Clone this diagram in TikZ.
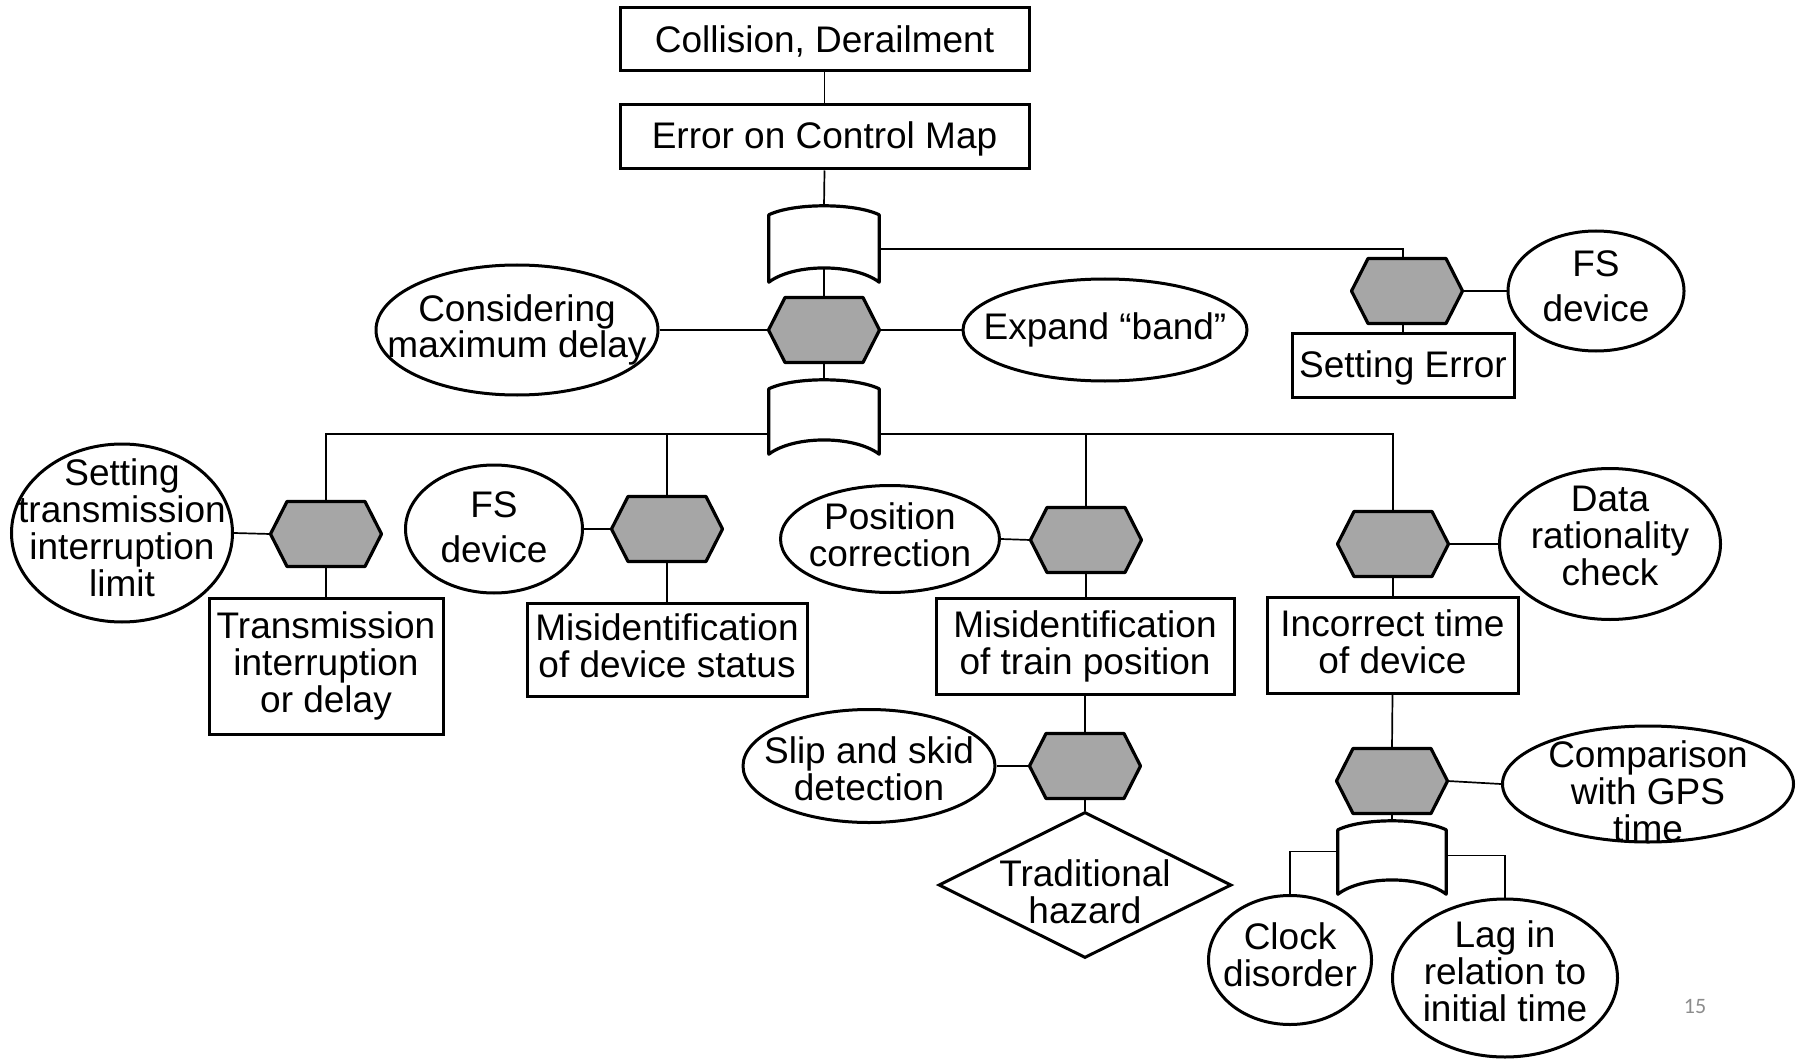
\documentclass[tikz,border=0pt]{standalone}
\usepackage{fontspec}
\setmainfont{Liberation Sans}
\newfontfamily\pgnumfont{Carlito}
\usetikzlibrary{shapes.geometric,calc}
\newcommand\diafont{\fontsize{37}{37}\selectfont}
\definecolor{hexgray}{HTML}{A6A6A6}
\definecolor{pggray}{HTML}{8C8C8C}
\newcommand\hexgate[1]{\draw[hexline] ([xshift=-55.5pt]#1.center) -- ([xshift=-39pt,yshift=32.5pt]#1.center) -- ([xshift=39pt,yshift=32.5pt]#1.center) -- ([xshift=55.5pt]#1.center) -- ([xshift=39pt,yshift=-32.5pt]#1.center) -- ([xshift=-39pt,yshift=-32.5pt]#1.center) -- cycle;}
\newcommand\orgate[1]{\draw[gateline] (#1.south west) -- ([yshift=-9pt]#1.north west) .. controls +(25pt,12pt) and +(-25pt,12pt) .. ([yshift=-9pt]#1.north east) -- (#1.south east) .. controls +(-25pt,19pt) and +(25pt,19pt) .. (#1.south west) -- cycle;}
\begin{document}
\begin{tikzpicture}[x=1pt,y=-1pt,
  box/.style={draw, line width=3pt, fill=white, align=center, font=\diafont, inner sep=0pt},
  ell/.style={ellipse, draw, line width=3pt, fill=white, inner sep=0pt},
  elltext/.style={align=center, font=\diafont, inner sep=0pt},
  hexbox/.style={rectangle, minimum width=111pt, minimum height=65pt, inner sep=0pt},
  gatebox/.style={rectangle, inner sep=0pt},
  hexline/.style={draw=black, fill=hexgray, line width=3.2pt, line join=round},
  gateline/.style={draw=black, fill=white, line width=3.2pt, line join=round},
  conn/.style={line width=1.7pt}]
\useasboundingbox (0,0) rectangle (1801,1059);

% top boxes
\node[box, minimum width=409pt, minimum height=63pt, text height=31pt] (coll) at (824.5,39.5) {Collision, Derailment};
\node[box, minimum width=409pt, minimum height=64pt, text height=31pt] (err) at (824.5,137) {Error on Control Map};

% gates
\node[gatebox, minimum width=110pt, minimum height=76pt] (g1) at (824,244) {};
\node[gatebox, minimum width=110pt, minimum height=74pt] (g2) at (824,417) {};
\node[gatebox, minimum width=108pt, minimum height=73pt] (g3) at (1392,857.5) {};
\orgate{g1}
\orgate{g2}
\orgate{g3}

% hexagons
\node[hexbox] (h1) at (824,330) {};
\node[hexbox] (hG) at (1407,291) {};
\node[hexbox] (hA) at (326,534) {};
\node[hexbox] (hB) at (667,529) {};
\node[hexbox] (hC) at (1086,540) {};
\node[hexbox] (hD) at (1085,766) {};
\node[hexbox] (hE) at (1393,544) {};
\node[hexbox] (hF) at (1392,781) {};
\hexgate{h1}\hexgate{hG}\hexgate{hA}\hexgate{hB}\hexgate{hC}\hexgate{hD}\hexgate{hE}\hexgate{hF}

% event boxes
\node[box, minimum width=222pt, minimum height=64pt, text height=33pt] (serr) at (1403,365) {Setting Error};
\node[box, minimum width=234pt, minimum height=136pt] (trans) at (326,666) {Transmission\\interruption\\or delay};
\node[box, minimum width=280pt, minimum height=93pt, text depth=8pt] (mds) at (667,649.5) {Misidentification\\of device status};
\node[box, minimum width=298pt, minimum height=96pt] (mtp) at (1085,646) {Misidentification\\of train position};
\node[box, minimum width=251pt, minimum height=96pt, text depth=7pt] (itd) at (1392.5,645) {Incorrect time\\of device};

% diamond
\node[diamond, draw, line width=3pt, fill=white, inner sep=0pt, minimum width=293pt, minimum height=146pt,
  label={[elltext, yshift=-7pt]center:{Traditional\\hazard}}] (trad) at (1085,885) {};

% ellipses
\node[ell, minimum width=282pt, minimum height=130pt,
  label={[elltext, font=\fontsize{37}{30}\selectfont]center:{Considering\\maximum delay}}] (cons) at (517,330) {};
\node[ell, minimum width=284pt, minimum height=102pt,
  label={[elltext]center:{Expand “band”}}] (band) at (1105,330) {};
\node[ell, minimum width=176pt, minimum height=120pt,
  label={[elltext, yshift=5pt, font=\fontsize{37}{45}\selectfont]center:{FS\\device}}] (fs1) at (1596,291) {};
\node[ell, minimum width=221pt, minimum height=178pt,
  label={[elltext, yshift=5pt]center:{Setting\\transmission\\interruption\\limit}}] (stl) at (122,533) {};
\node[ell, minimum width=177pt, minimum height=128pt,
  label={[elltext, yshift=2pt, font=\fontsize{37}{45}\selectfont]center:{FS\\device}}] (fs2) at (494,529) {};
\node[ell, minimum width=219pt, minimum height=107pt,
  label={[elltext, yshift=4pt]center:{Position\\correction}}] (pos) at (890,539) {};
\node[ell, minimum width=252pt, minimum height=113pt,
  label={[elltext, yshift=-3pt]center:{Slip and skid\\detection}}] (slip) at (869,766) {};
\node[ell, minimum width=221pt, minimum height=151pt,
  label={[elltext, yshift=8pt]center:{Data\\rationality\\check}}] (data) at (1610,544) {};
\node[ell, minimum width=291pt, minimum height=116pt,
  label={[elltext, yshift=-7pt]center:{Comparison\\with GPS\\time}}] (gps) at (1648,784) {};
\node[ell, minimum width=163pt, minimum height=129pt,
  label={[elltext, yshift=5pt]center:{Clock\\disorder}}] (clock) at (1290,960) {};
\node[ell, minimum width=225pt, minimum height=158pt,
  label={[elltext, yshift=7pt]center:{Lag in\\relation to\\initial time}}] (lag) at (1505,978) {};

% page number
\node[font=\pgnumfont\fontsize{22}{22}\selectfont, text=pggray, inner sep=0pt] (pg) at (1695,1006) {15};

% connector coordinates
\coordinate (g1B) at ([yshift=14pt]g1.south);
\coordinate (g1R) at ([yshift=-5pt]g1.east);
\coordinate (g2L) at ([yshift=-17pt]g2.west);
\coordinate (g2R) at ([yshift=-17pt]g2.east);
\coordinate (g3L) at ([yshift=6pt]g3.west);
\coordinate (g3R) at ([yshift=2pt]g3.east);
\coordinate (g3T) at (g3.north);
\coordinate (hGt) at (serr.north |- hG.north);
\coordinate (hGb) at (serr.north |- hG.south);

% connectors
\draw[conn] (coll.south) -- (err.north);
\draw[conn] (err.south) -- (g1.north);
\draw[conn] (g1B) -- (h1.north);
\draw[conn] (h1.south) -- (g2.north);
\draw[conn] (cons.east) -- (h1.west);
\draw[conn] (h1.east) -- (band.west);
\draw[conn] (g1R) -| (hGt);
\draw[conn] (hG.east) -- (fs1.west);
\draw[conn] (hGb) -- (serr.north);

\draw[conn] (g2L) -| (hA.north);
\draw[conn] (hB.north) |- (g2L);
\draw[conn] (g2R) -| (hE.north);
\draw[conn] (hC.north) |- (g2R);

\draw[conn] (stl.east) -- (hA.west);
\draw[conn] (hA.south) -- (trans.north);
\draw[conn] (fs2.east) -- (hB.west);
\draw[conn] (hB.south) -- (mds.north);
\draw[conn] (pos.east) -- (hC.west);
\draw[conn] (hC.south) -- (mtp.north -| hC.south);
\draw[conn] (mtp.south) -- (hD.north);
\draw[conn] (slip.east) -- (hD.west);
\draw[conn] (hD.south) -- (trad.north);
\draw[conn] (hE.east) -- (data.west);
\draw[conn] (hE.south) -- (itd.north -| hE.south);
\draw[conn] (itd.south) -- (hF.north);
\draw[conn] (hF.east) -- (gps.west);
\draw[conn] (hF.south) -- (g3T);
\draw[conn] (g3L) -| (clock.north);
\draw[conn] (g3R) -| (lag.north);
\end{tikzpicture}
\end{document}
